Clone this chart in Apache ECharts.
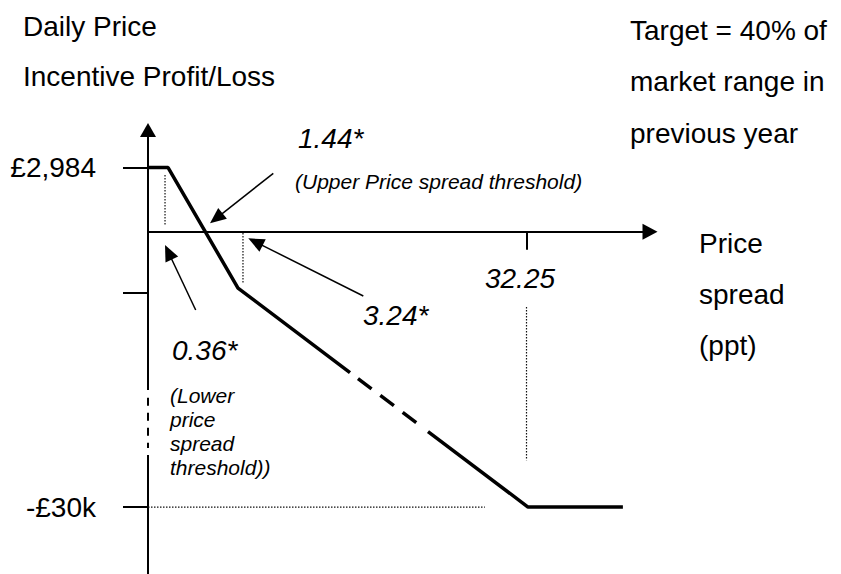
<!DOCTYPE html>
<html>
<head>
<meta charset="utf-8">
<script src="https://cdn.jsdelivr.net/npm/echarts@6/dist/echarts.min.js"></script>
<style>
  html, body { margin: 0; padding: 0; background: #fff; }
  #chart { width: 841px; height: 574px; }
</style>
</head>
<body>
<div id="chart"></div>
<script>
// schematic (not to scale) - values are positions in plot units
const yTickPos = [7, -6.67, -30];
const yTickText = ['£2,984', '', '-£30k'];
const xTickPos = [75.4];
const xTickText = ['32.25'];

const profitSolidA = [[0, 7], [4, 7], [17.93, -6.13], [40.24, -15.35]];
const profitDashed = [[41.83, -16.0], [53.59, -20.86]];
const profitSolidB = [[55.78, -21.77], [75.7, -30], [94.6, -30]];

const guideLines = [
  [[3.39, 6.19], [3.39, 0.74]],
  [[18.92, -0.13], [18.92, -5.58]],
  [[75.4, -8.2], [75.4, -24.9]],
  [[0, -30], [67.1, -30]]
];

// from x, from y, to x, to y
const pointers = [
  [24.96, 6.38, 12.35, 0.93],
  [9.5, -8.52, 3.39, -1.44],
  [42.89, -7.0, 19.98, -0.71]
];

const axisGap = [[0, -17.24], [0, -24.33]];
const axisGapDash = [[0, -18.1], [0, -23.56]];

const titleLeft = ['Daily Price', 'Incentive Profit/Loss'];
const titleRight = ['Target = 40% of', 'market range in', 'previous year'];
const xName = ['Price', 'spread', '(ppt)'];
const lowerNote = ['(Lower', 'price', 'spread', 'threshold))'];

const FONT = '"Liberation Sans", Arial, Helvetica, sans-serif';
const black = '#000';

const chart = echarts.init(document.getElementById('chart'), null, { renderer: 'svg' });

function txt(text, x, y, size, italic, align) {
  return {
    type: 'text', x: x, y: y, silent: true,
    style: {
      text: text,
      fill: black,
      font: (italic ? 'italic ' : '') + size + 'px ' + FONT,
      align: align || 'left',
      verticalAlign: 'middle'
    }
  };
}

function plain(data, extra) {
  return Object.assign({
    type: 'line', data: data, symbol: 'none', silent: true, clip: false,
    lineStyle: { color: black, width: 3.5, cap: 'butt' }
  }, extra || {});
}

const graphics = [];
titleLeft.forEach((t, i) => graphics.push(txt(t, 23, 26.5 + i * 50, 28)));
titleRight.forEach((t, i) => graphics.push(txt(t, 630, 30 + i * 51.5, 28)));
xName.forEach((t, i) => graphics.push(txt(t, 699, 243 + i * 51, 28)));
graphics.push(txt('1.44*', 298, 138, 28, true));
graphics.push(txt('(Upper Price spread threshold)', 295, 181.5, 21, true));
graphics.push(txt('3.24*', 363, 315, 28, true));
graphics.push(txt('0.36*', 172, 350, 28, true));
graphics.push(txt(xTickText[0], 520, 278, 28, true, 'center'));
lowerNote.forEach((t, i) => graphics.push(txt(t, 170, 395 + i * 24, 21, true)));

const series = [
  plain(profitSolidA),
  plain(profitDashed, { lineStyle: { color: black, width: 3.5, type: [17, 11], cap: 'butt' } }),
  plain(profitSolidB)
];

guideLines.forEach(g => series.push(plain(g, {
  lineStyle: { color: '#111', width: 1.2, type: [1.5, 1.5] }
})));

// break in the y axis
series.push(plain(axisGap, { z: 3, lineStyle: { color: '#fff', width: 6 } }));
series.push(plain(axisGapDash, { z: 4, lineStyle: { color: black, width: 2, type: [8, 7], cap: 'butt' } }));

series.push({
  type: 'custom',
  data: pointers,
  encode: { x: [0, 2], y: [1, 3] },
  clip: false,
  silent: true,
  z: 5,
  renderItem: function (params, api) {
    const a = api.coord([api.value(0), api.value(1)]);
    const b = api.coord([api.value(2), api.value(3)]);
    const dx = b[0] - a[0], dy = b[1] - a[1];
    const len = Math.hypot(dx, dy);
    const ux = dx / len, uy = dy / len;
    const hl = 16, hw = 7;
    const bx = b[0] - ux * hl, by = b[1] - uy * hl;
    return {
      type: 'group',
      children: [
        { type: 'line', shape: { x1: a[0], y1: a[1], x2: bx + ux * 2, y2: by + uy * 2 },
          style: { stroke: black, lineWidth: 1.5 } },
        { type: 'polygon',
          shape: { points: [[b[0], b[1]], [bx - uy * hw, by + ux * hw], [bx + uy * hw, by - ux * hw]] },
          style: { fill: black } }
      ]
    };
  }
});

const option = {
  backgroundColor: '#fff',
  animation: false,
  grid: { left: 148, right: 191, top: 130, bottom: 0, containLabel: false, outerBoundsMode: 'none' },
  xAxis: {
    type: 'value', min: 0, max: 100,
    axisLine: { onZero: true, symbol: ['none', 'triangle'], symbolSize: [16, 15],
      lineStyle: { color: black, width: 2 } },
    axisTick: { show: true, customValues: xTickPos, length: 18, lineStyle: { color: black, width: 2 } },
    axisLabel: { show: false },
    splitLine: { show: false }
  },
  yAxis: {
    type: 'value', min: -37.3, max: 11.1,
    axisLine: { show: true, onZero: true, symbol: ['none', 'triangle'], symbolSize: [16, 14],
      lineStyle: { color: black, width: 2 } },
    axisTick: { show: true, customValues: yTickPos, length: 25, lineStyle: { color: black, width: 2 } },
    axisLabel: {
      show: true, customValues: [yTickPos[0], yTickPos[2]], margin: 52,
      formatter: v => yTickText[yTickPos.indexOf(v)] || '',
      color: black, fontSize: 28, fontFamily: FONT
    },
    splitLine: { show: false }
  },
  graphic: graphics,
  series: series
};

chart.setOption(option);
</script>
</body>
</html>
